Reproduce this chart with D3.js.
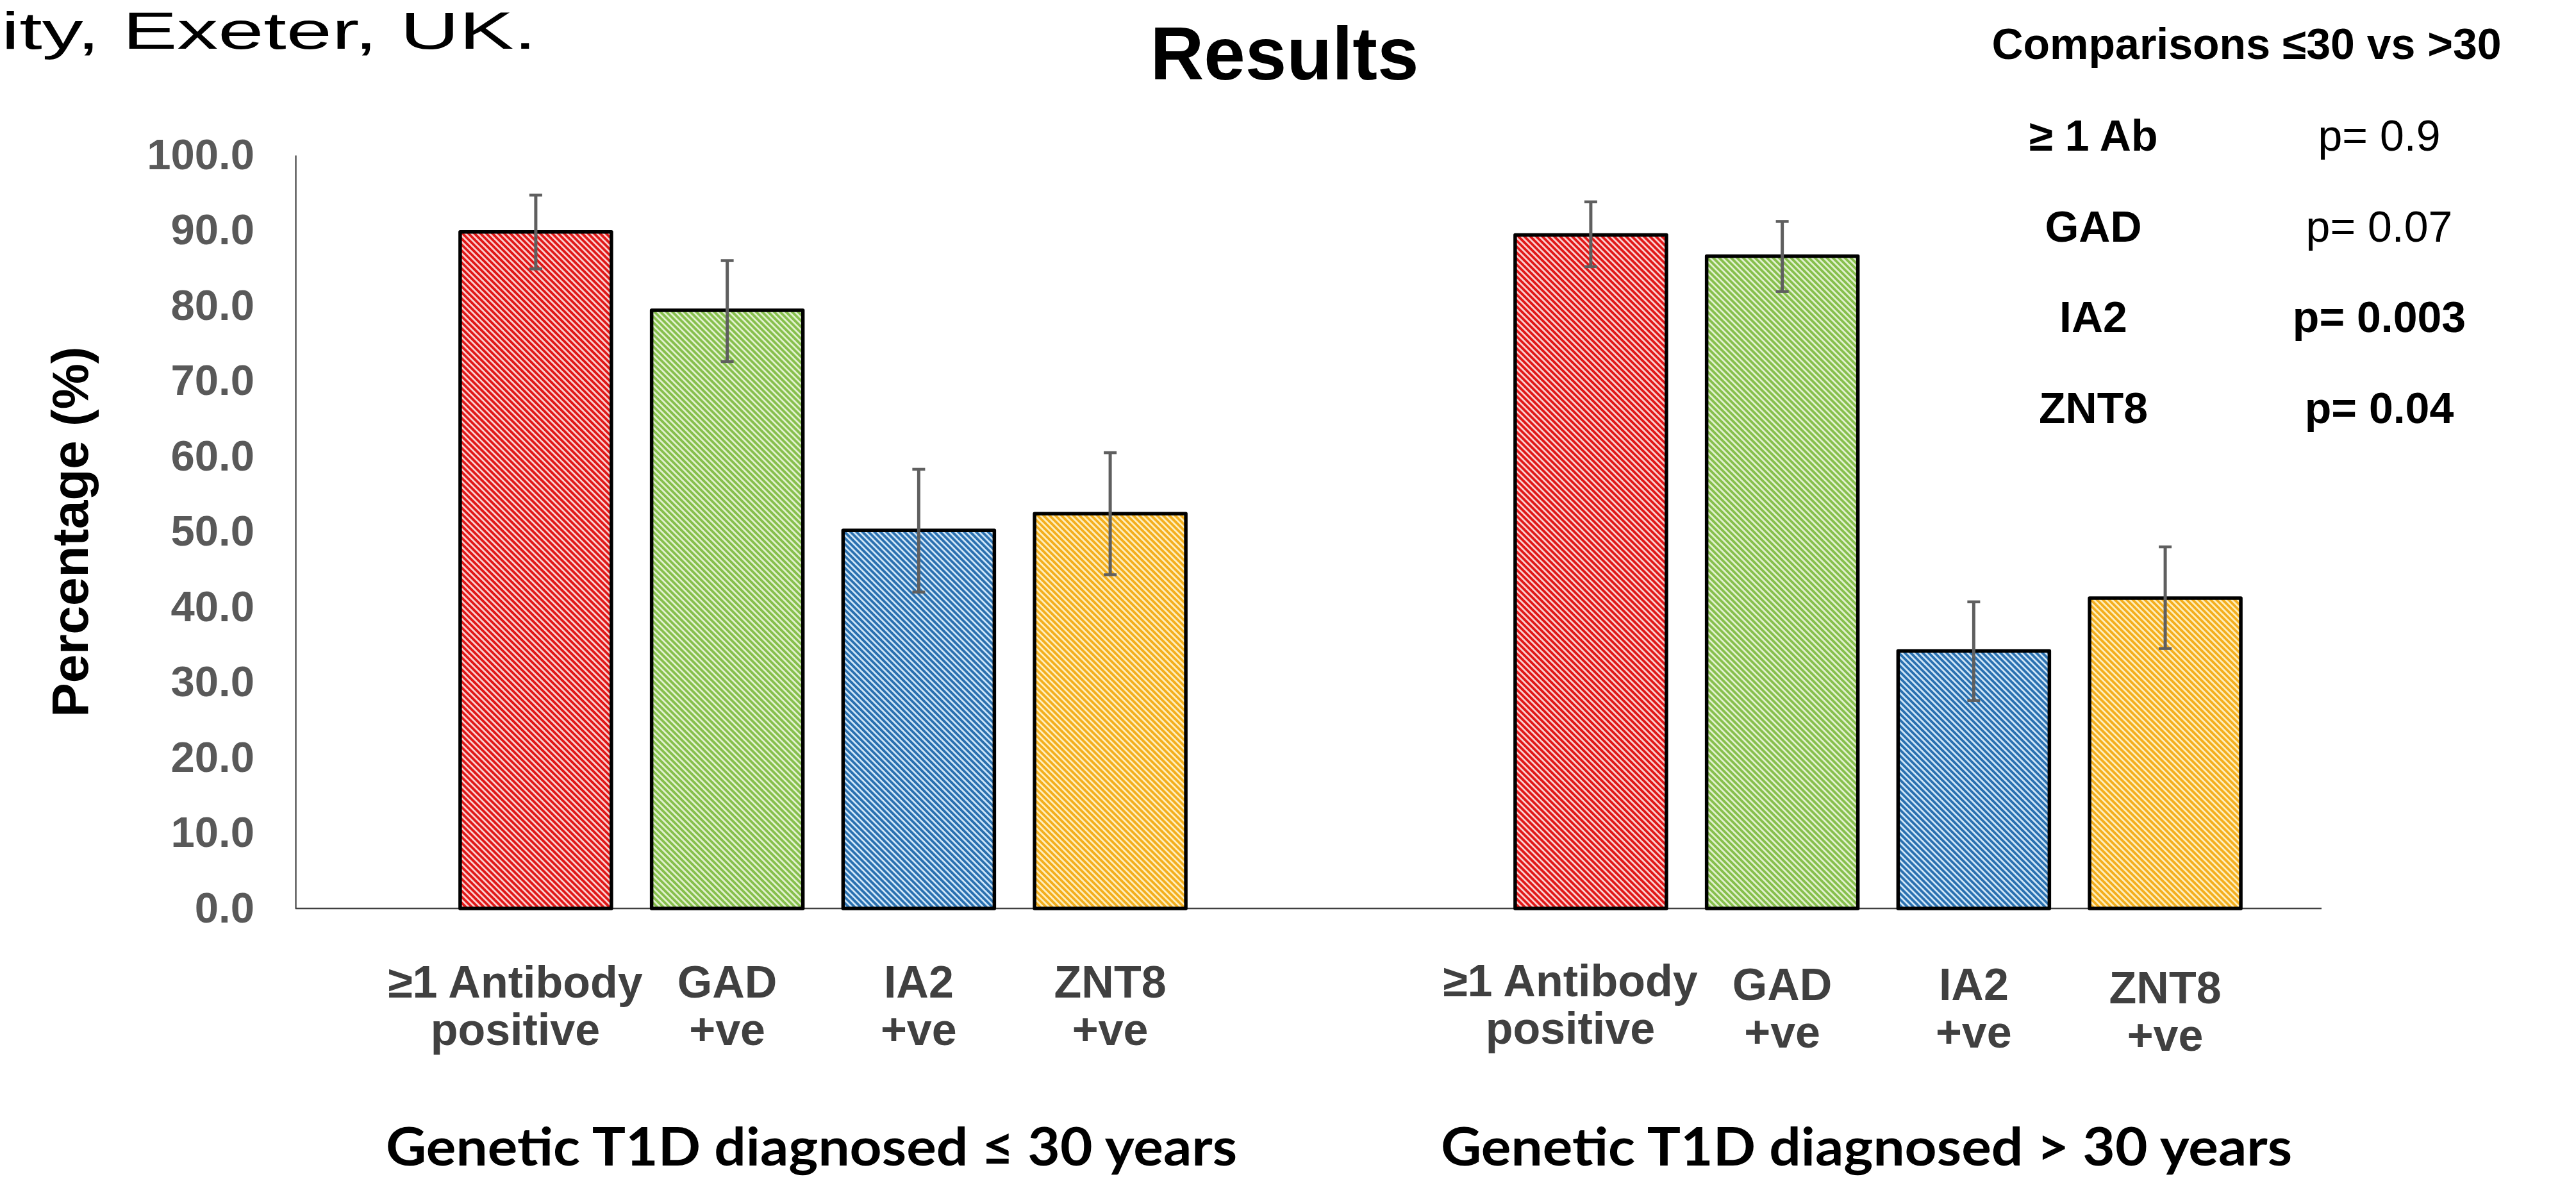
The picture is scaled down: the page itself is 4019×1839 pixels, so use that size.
<!DOCTYPE html>
<html>
<head>
<meta charset="utf-8">
<script src="https://cdn.jsdelivr.net/npm/d3@7/dist/d3.min.js"></script>
<style>
  html, body { margin: 0; padding: 0; background: #ffffff; }
  svg { display: block; }
</style>
</head>
<body>
<script>
// ---------------- DATA ----------------
const groups = ["Genetic T1D diagnosed \u2264 30 years", "Genetic T1D diagnosed > 30 years"];
const series = ["\u22651 Antibody positive", "GAD +ve", "IA2 +ve", "ZNT8 +ve"];
const seriesLabelLines = [["\u22651 Antibody", "positive"], ["GAD", "+ve"], ["IA2", "+ve"], ["ZNT8", "+ve"]];

const valuesLE30 = [89.8, 79.4, 50.2, 52.4];
const lowerLE30  = [84.9, 72.6, 42.0, 44.3];
const upperLE30  = [94.7, 86.0, 58.3, 60.5];

const valuesGT30 = [89.4, 86.6, 34.2, 41.2];
const lowerGT30  = [85.2, 81.9, 27.6, 34.5];
const upperGT30  = [93.8, 91.2, 40.7, 48.0];

const yTicks = [0, 10, 20, 30, 40, 50, 60, 70, 80, 90, 100];

const comparisonTitle = "Comparisons \u226430 vs >30";
const comparisonLabels = ["\u2265 1 Ab", "GAD", "IA2", "ZNT8"];
const comparisonP = ["p= 0.9", "p= 0.07", "p= 0.003", "p= 0.04"];
const comparisonSignificant = [false, false, true, true];

const chartTitle = "Results";
const yAxisTitle = "Percentage (%)";
const headerFragment = "ity, Exeter, UK.";

// ---------------- LAYOUT / STYLE ----------------
const W = 4019, H = 1839;
const plotLeft = 461, plotTop = 242, plotBottom = 1417, axisRight = 3622;
const groupWidth = 1646;
const FONT = "'Liberation Sans', Arial, Helvetica, sans-serif";

const stripeColors = ["#E01818", "#86BF4C", "#2A70B0", "#F3AE1E"];
const stripeBg     = ["#FBD0D0", "#E2F1CF", "#D0E6F7", "#FFEFBE"];

const rows = groups.map((g, gi) => series.map((s, si) => ({
  group: g, gi, series: s, si,
  value: gi === 0 ? valuesLE30[si] : valuesGT30[si],
  lo: gi === 0 ? lowerLE30[si] : lowerGT30[si],
  hi: gi === 0 ? upperLE30[si] : upperGT30[si]
}))).flat();

const svg = d3.select("body").append("svg")
  .attr("width", W).attr("height", H)
  .attr("viewBox", `0 0 ${W} ${H}`);

svg.append("rect").attr("width", W).attr("height", H).attr("fill", "#ffffff");

// hatch patterns
const defs = svg.append("defs");
series.forEach((s, i) => {
  const p = defs.append("pattern")
    .attr("id", "hatch" + i)
    .attr("patternUnits", "userSpaceOnUse")
    .attr("width", 6.6).attr("height", 6.6)
    .attr("patternTransform", "rotate(-45)");
  p.append("rect").attr("width", 6.6).attr("height", 6.6).attr("fill", stripeBg[i]);
  p.append("rect").attr("width", 3.8).attr("height", 6.6).attr("fill", stripeColors[i]);
});

// scales
const x0 = d3.scaleBand().domain(groups).range([plotLeft, plotLeft + 2 * groupWidth]);
const x1 = d3.scaleBand().domain(series).range([0, groupWidth]).paddingInner(0.21).paddingOuter(0.86);
const y = d3.scaleLinear().domain([0, 100]).range([plotBottom, plotTop]);

// y axis
const yAxis = d3.axisLeft(y).tickValues(yTicks).tickFormat(d3.format(".1f"))
  .tickSizeInner(0).tickSizeOuter(0).tickPadding(64);
const yg = svg.append("g").attr("transform", `translate(${plotLeft},0)`).call(yAxis);
yg.select(".domain").attr("stroke", "#595959").attr("stroke-width", 2.5);
yg.selectAll(".tick text")
  .attr("font-family", FONT).attr("font-size", 67).attr("font-weight", "bold")
  .attr("fill", "#595959");

// x baseline
svg.append("line")
  .attr("x1", plotLeft).attr("x2", axisRight)
  .attr("y1", y(0)).attr("y2", y(0))
  .attr("stroke", "#404040").attr("stroke-width", 2.5);

// bars
const barX = d => x0(d.group) + x1(d.series);
svg.append("g").selectAll("rect").data(rows).join("rect")
  .attr("x", barX)
  .attr("y", d => y(d.value))
  .attr("width", x1.bandwidth())
  .attr("height", d => y(0) - y(d.value))
  .attr("fill", d => `url(#hatch${d.si})`)
  .attr("stroke", "#000000").attr("stroke-width", 5.5)
  .attr("stroke-linejoin", "round");

// error bars
const eg = svg.append("g").attr("stroke", "#5f5f5f").attr("stroke-width", 5).attr("fill", "none");
const cx = d => barX(d) + x1.bandwidth() / 2;
eg.selectAll("line.v").data(rows).join("line").attr("class", "v")
  .attr("x1", cx).attr("x2", cx)
  .attr("y1", d => y(d.lo)).attr("y2", d => y(d.hi));
eg.selectAll("line.t").data(rows).join("line").attr("class", "t")
  .attr("x1", d => cx(d) - 10).attr("x2", d => cx(d) + 10)
  .attr("y1", d => y(d.hi)).attr("y2", d => y(d.hi)).attr("stroke-width", 4.5);
eg.selectAll("line.b").data(rows).join("line").attr("class", "b")
  .attr("x1", d => cx(d) - 10).attr("x2", d => cx(d) + 10)
  .attr("y1", d => y(d.lo)).attr("y2", d => y(d.lo)).attr("stroke-width", 4.5);

// category labels
const lg = svg.append("g").attr("font-family", FONT).attr("font-weight", "bold")
  .attr("font-size", 70).attr("fill", "#404040").attr("text-anchor", "middle");
rows.forEach(d => {
  const lines = seriesLabelLines[d.si];
  const shift = d.si === 0 ? -32 : 0;
  const drop = d.gi === 1 ? (d.si === 3 ? 9 : d.si === 0 ? -2 : 4) : 0;
  const t = lg.append("text")
    .attr("x", cx(d) + shift)
    .attr("y", 1556 + drop);
  lines.forEach((ln, li) => {
    t.append("tspan").attr("x", cx(d) + shift).attr("dy", li === 0 ? 0 : 74).text(ln);
  });
});

// group titles
svg.append("g").selectAll("text").data(groups).join("text")
  .attr("x", g => x0(g) + x0.bandwidth() / 2 - 18)
  .attr("y", 1818)
  .attr("text-anchor", "middle")
  .attr("font-family", "Lato, 'Open Sans', sans-serif")
  .attr("font-weight", "bold").attr("font-size", 82)
  .attr("textLength", 1328).attr("lengthAdjust", "spacingAndGlyphs")
  .attr("fill", "#000000")
  .text(g => g);

// y axis title
svg.append("text")
  .attr("transform", `translate(137, ${(plotTop + plotBottom) / 2}) rotate(-90)`)
  .attr("text-anchor", "middle")
  .attr("font-family", FONT).attr("font-weight", "bold").attr("font-size", 80)
  .attr("fill", "#000000")
  .text(yAxisTitle);

// chart title
svg.append("text")
  .attr("x", 2004).attr("y", 124)
  .attr("text-anchor", "middle")
  .attr("font-family", FONT).attr("font-weight", "bold").attr("font-size", 116)
  .attr("fill", "#000000")
  .text(chartTitle);

// header fragment (text fragment at top-left)
svg.append("text")
  .attr("x", 2).attr("y", 76)
  .attr("font-family", FONT).attr("font-size", 82)
  .attr("textLength", 835).attr("lengthAdjust", "spacingAndGlyphs")
  .attr("fill", "#000000")
  .text(headerFragment);

// comparisons table
const cg = svg.append("g").attr("font-family", FONT).attr("fill", "#000000").attr("text-anchor", "middle");
cg.append("text").attr("x", 3505).attr("y", 92)
  .attr("font-size", 68).attr("font-weight", "bold").text(comparisonTitle);
comparisonLabels.forEach((lab, i) => {
  const yy = 235 + i * 141.7;
  cg.append("text").attr("x", 3266).attr("y", yy)
    .attr("font-size", 68).attr("font-weight", "bold").text(lab);
  cg.append("text").attr("x", 3712).attr("y", yy)
    .attr("font-size", 68).attr("font-weight", comparisonSignificant[i] ? "bold" : "normal")
    .text(comparisonP[i]);
});
</script>
</body>
</html>
